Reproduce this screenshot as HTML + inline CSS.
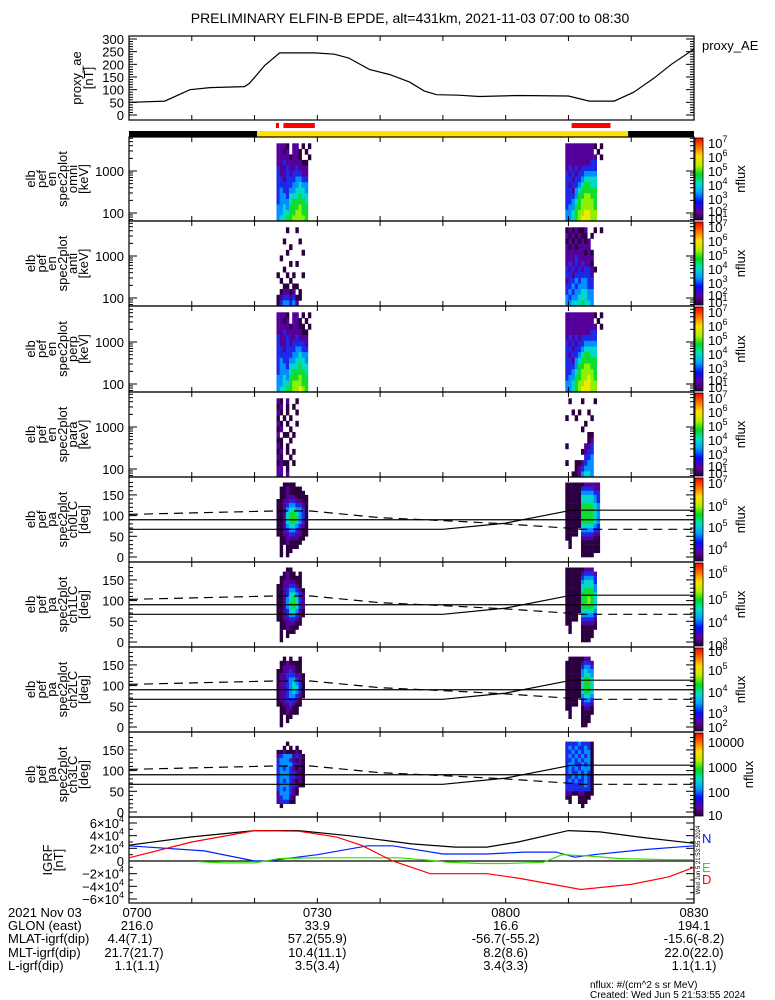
<!DOCTYPE html>
<html><head><meta charset="utf-8"><style>
html,body{margin:0;padding:0;background:#fff;}
svg{display:block;font-family:"Liberation Sans",sans-serif;}
</style></head><body>
<svg id="chart" width="775" height="1000" viewBox="0 0 775 1000" xmlns="http://www.w3.org/2000/svg"></svg>
<script>
// ---------- data ----------
const aeTimes = [0,0.3,5.7,9.7,12.9,18.4,19.2,21.6,24,29.6,32.7,35,38.3,41.5,44.7,47,49,52.5,55.8,62,70,73.3,77.3,80.4,83.6,86.4,90];
const aeValues = [50,50,55,100,108,112,125,195,245,245,240,225,180,160,130,95,80,78,73,77,75,55,55,90,145,200,260];
const aeTicks = [0,50,100,150,200,250,300];
const timeTickLabels = ["0700","0730","0800","0830"];
const timeTickMinutes = [0,30,60,90];
const glon = ["216.0","33.9","16.6","194.1"];
const mlat = ["4.4(7.1)","57.2(55.9)","-56.7(-55.2)","-15.6(-8.2)"];
const mlt = ["21.7(21.7)","10.4(11.1)","8.2(8.6)","22.0(22.0)"];
const lshell = ["1.1(1.1)","3.5(3.4)","3.4(3.3)","1.1(1.1)"];
const barSegments = [[0,20.4,"#000"],[20.4,79.5,"#ffe000"],[79.5,90,"#000"]];
const sciZones = [[23.4,23.9],[24.6,29.6],[70.5,76.7]];
const igrfTimes = [0,10,20,27,35,45,52,57,62,70,75,82,90];
const igrfN = [25000,38000,48000,48000,40000,27000,22000,22000,30000,48000,46000,37000,28000];
const igrfDTimes = [0,10,20,27,33,37,42,48,57,62,72,80,86,90];
const igrfD = [5000,30000,48000,47000,38000,25000,0,-20000,-20000,-27000,-45000,-37000,-25000,-10000];
const igrfBTimes = [0,12,20,22,30,38,42,50,57,63,68,71,74,82,90];
const igrfB = [24000,16000,0,0,10000,24000,24000,11000,11000,14000,14000,6000,10000,18000,24000];
const igrfETimes = [11,15,20,24,30,43,48,51,56,60,66,69,73,78,86,90];
const igrfE = [-1000,-3000,-3000,4000,5000,5000,1000,-2000,-4000,-4000,-2000,10000,8000,4000,2000,2000];
const lcTimes = [0,23,29,40,50,60,70.5,72,90];
const lcSolid = [67,67,67,67,67,82,113,113,113];
const lcDashed = [103,111,111,95,88,80,69,67,67];
const blobStarts = [23.5,69.5];
const colDur = 0.5;
const omni1 = ["222102201010","221202210100","222212210010","223222221100","322322322200","322323332200","332333443300","333334454400","343344555400","344355565500","344456666500","445466676600","445566776600","455667777600"];
const omni2 = ["222222222101","222222222010","222222222201","222222223300","232323333300","323233444400","332334555500","323345665500","332456666600","333466776600","334567777600","344667777600","445677887700","445678887700"];
const anti1 = ["000100100000","000000000000","001000010000","000010000000","000100001000","010000000000","000010100000","001000000000","100101001000","010010000000","001101100000","012212010000","123323110000","134434200000"];
const anti2 = ["121211200101","212121101000","121212120000","212122220000","222222121000","222322222000","232323221000","323232332100","332333332000","233434433000","334344433000","343445544000","434455544000","445556554000"];
const perp1 = ["222102201010","221202210100","222212211010","223222221100","322322322200","322323333200","332333443300","333334454400","343344555400","344355565500","344456666500","445466676600","445567776600","455667787600"];
const perp2 = ["222222222101","222222222010","222222222201","222222223300","232323333300","323233444400","332334555500","323345665500","332456666600","333466776600","334567777600","344667787600","445677887700","445678887700"];
const para1 = ["210200100000","120101000000","210100100000","101010000000","210100100000","120010000000","201101000000","110010000000","210100000000","120101000000","210010000000","121101000000","220100000000","220200000000"];
const para2 = ["010001000100","000000000000","001010010000","100100001000","000000100000","000001000000","000000011000","000000012000","100000223000","000001233000","000000334000","100112344000","000123444000","001124554000"];
const pa1 = ["001111000000","011211110000","011211111000","011222111100","112233221100","112344332100","112455443100","112566543100","112566643100","112566543100","112455432100","112344321100","112233221100","011222211000","011211110000","010111100000","010110000000","010100000000"];
const pa2 = ["111111222220","111113333220","111114444330","111115555430","111115555430","111116666540","111116666540","111116666540","111116666540","111116666540","111115555430","111104444330","111103333220","110002222110","010001111110","010001111110","000001111110","000001111000"];
const pb1 = ["000110000000","001211010000","011211110000","012222110000","112233210000","112344321000","112355432000","112456532000","112466532000","112456532000","112355421000","112344321000","112233210000","011222110000","011211100000","010111000000","010100000000","010000000000"];
const pb2 = ["111111222000","111112333200","111113444300","111114555300","111115555400","111115666400","111116666500","111116676500","111116676500","111116666500","111115555400","111104444300","111103333200","110002222100","010001111100","010001111000","000001111000","000001110000"];
const pc1 = ["000000000000","001010010000","011211110000","012222110000","112232110000","122333221000","122344321000","122345431000","122345531000","122345431000","122344321000","122333210000","112232110000","011221100000","011211100000","010110000000","010100000000","010000000000"];
const pc2 = ["000000000000","011111220000","111112332000","111113443000","111114544000","111114554000","111115665000","111115665000","111115665000","111115665000","111114554000","111103443000","111102332000","110001221000","010001111000","010001110000","000001110000","000001100000"];
const pd1 = ["000000000000","000100000000","001010100000","112111210000","234442321000","344432121000","344443221000","343432121000","344433211000","344433221000","343432121000","344433211000","343432100000","244432100000","234421000000","233311000000","010000000000","000000000000"];
const pd2 = ["000000000000","333343331000","343433431000","334343441000","343434341000","334343441000","344334341000","343434441000","343343431000","334343431000","343433431000","333333431000","333333331000","221122111000","110011110000","010011100000","000001000000","000000000000"];

// ---------- layout ----------
const svg = document.getElementById('chart');
const NS = "http://www.w3.org/2000/svg";
const X0 = 129, X1 = 694;
const xs = t => X0 + (X1 - X0) * t / 90;
const palette = ["none","#2a0040","#55009a","#1c28e8","#0090ff","#00d8c8","#10dc30","#8cf000","#f0e800","#ff8c00"];
function mk(tag, attrs, parent){ const e=document.createElementNS(NS,tag); for(const k in attrs) e.setAttribute(k,attrs[k]); (parent||svg).appendChild(e); return e; }
function txt(x,y,s,size,anchor,parent,fill){ const e=mk('text',{x:x,y:y,'font-size':size||13,'text-anchor':anchor||'start',fill:fill||'#000'},parent); e.textContent=s; return e; }

// title
const title = txt(410,23,"PRELIMINARY ELFIN-B EPDE, alt=431km, 2021-11-03 07:00 to 08:30",14,'middle');



function timeTicks(g,top,bot){
  for(let m=10;m<90;m+=10){
    const x=xs(m);
    mk('line',{x1:x,y1:bot,x2:x,y2:bot-5,stroke:'#000'},g);
    mk('line',{x1:x,y1:top,x2:x,y2:top+5,stroke:'#000'},g);
  }
}
function frame(g,top,bot){
  mk('rect',{x:X0,y:top,width:X1-X0,height:bot-top,fill:'none',stroke:'#000','stroke-width':1.2},g);
}
function ylabel(g,lines,cy,xsArr){
  lines.forEach((s,i)=>{
    const t=mk('text',{x:0,y:0,'font-size':13,'text-anchor':'middle',transform:`translate(${xsArr[i]},${cy}) rotate(-90)`},g);
    t.textContent=s;
  });
}
function lineMarks(g,times,vals,ymap,color,name,dash){
  let d="";
  times.forEach((t,i)=>{d+=(i?"L":"M")+xs(t).toFixed(1)+","+ymap(vals[i]).toFixed(1);});
  const p=mk('path',{d:d,fill:'none',stroke:color,'stroke-width':1.2},g);
  if(dash) p.setAttribute('stroke-dasharray',dash);
  
  
  return p;
}

// ---------- proxy AE panel ----------
{
  const g=mk('g',{});
  
  
  const top=36,bot=120;
  const ym=v=>115-(v/300)*76;
  frame(g,top,bot); timeTicks(g,top,bot);
  aeTicks.forEach(v=>{
    const y=ym(v);
    mk('line',{x1:X0,y1:y,x2:X0+8,y2:y,stroke:'#000'},g);
    mk('line',{x1:X1,y1:y,x2:X1-8,y2:y,stroke:'#000'},g);
    const t=txt(124,y+5,String(v),13,'end',g);
    
    
  });
  for(let v=10;v<300;v+=10){ if(v%50){const y=ym(v);
    mk('line',{x1:X0,y1:y,x2:X0+4,y2:y,stroke:'#000'},g);
    mk('line',{x1:X1,y1:y,x2:X1-4,y2:y,stroke:'#000'},g);}}
  ylabel(g,["proxy_ae","[nT]"],78,[81,93]);
  lineMarks(g,aeTimes,aeValues,ym,'#000','proxy-ae-line');
  const l=txt(702,50,"proxy_AE",13,'start',g);
  
  
}

// ---------- sci zones and bar ----------
{
  const g=mk('g',{});
  
  
  barSegments.forEach(s=>{
    const r=mk('rect',{x:xs(s[0]),y:131,width:xs(s[1])-xs(s[0]),height:6,fill:s[2]},g);
    
    
  });
  sciZones.forEach(s=>{
    const r=mk('rect',{x:xs(s[0]),y:123,width:xs(s[1])-xs(s[0]),height:5,fill:'#ff0000'},g);
    
    
  });
}

// ---------- spectrogram panels ----------
const specPanels = [
  {top:137,bot:221,lab:["elb","pef","en","spec2plot","omni","[keV]"],type:'en',m:[omni1,omni2],cb:[["7",6],["6",20],["5",34],["4",48],["3",62],["2",74],["1",81]],name:'omni'},
  {top:221,bot:306,lab:["elb","pef","en","spec2plot","anti","[keV]"],type:'en',m:[anti1,anti2],cb:[["7",6],["6",20],["5",34],["4",48],["3",62],["2",74],["1",81]],name:'anti'},
  {top:306,bot:392,lab:["elb","pef","en","spec2plot","perp","[keV]"],type:'en',m:[perp1,perp2],cb:[["7",6],["6",20],["5",34],["4",48],["3",62],["2",74],["1",81]],name:'perp'},
  {top:392,bot:477,lab:["elb","pef","en","spec2plot","para","[keV]"],type:'en',m:[para1,para2],cb:[["7",6],["6",20],["5",34],["4",48],["3",62],["2",74],["1",81]],name:'para'},
  {top:477,bot:562,lab:["elb","pef","pa","spec2plot","ch0LC","[deg]"],type:'pa',m:[pa1,pa2],cb:[["7",6],["6",29],["5",50],["4",72]],name:'ch0lc'},
  {top:562,bot:647,lab:["elb","pef","pa","spec2plot","ch1LC","[deg]"],type:'pa',m:[pb1,pb2],cb:[["6",11],["5",37],["4",60],["3",83]],name:'ch1lc'},
  {top:647,bot:732,lab:["elb","pef","pa","spec2plot","ch2LC","[deg]"],type:'pa',m:[pc1,pc2],cb:[["6",4],["5",23],["4",45],["3",66],["2",80]],name:'ch2lc'},
  {top:732,bot:817,lab:["elb","pef","pa","spec2plot","ch3LC","[deg]"],type:'pa',m:[pd1,pd2],cb:[["10000",10],["1000",35],["100",60],["10",83]],name:'ch3lc',plain:true},
];
specPanels.forEach((P,pi)=>{
  const g=mk('g',{});
  
  
  const H=P.bot-P.top;
  let ym, rowsLo, rowsHi, nrows;
  if(P.type==='en'){
    const lb=2-8/42, lt=lb+H/42;
    ym=v=>P.bot-(v-lb)*42;
    nrows=14; rowsLo=lb; rowsHi=lt-0.15;
  } else {
    ym=v=>P.bot-5-(v)*(H-8)/186;
    nrows=18; rowsLo=0; rowsHi=180;
  }
  // cells
  P.m.forEach((mat,bi)=>{
    mat.forEach((row,ri)=>{
      const vTop=rowsHi-(rowsHi-rowsLo)*ri/nrows, vBot=rowsHi-(rowsHi-rowsLo)*(ri+1)/nrows;
      for(let c=0;c<row.length;c++){
        const lv=+row[c]; if(!lv) continue;
        const t0=blobStarts[bi]+c*colDur;
        const r=mk('rect',{x:xs(t0).toFixed(1),y:ym(vTop).toFixed(1),width:(xs(t0+colDur)-xs(t0)+0.3).toFixed(1),height:(ym(vBot)-ym(vTop)+0.3).toFixed(1),fill:palette[lv]},g);
        
        
      }
    });
  });
  frame(g,P.top,P.bot); timeTicks(g,P.top,P.bot);
  // y axis
  if(P.type==='en'){
    [100,1000].forEach(v=>{const y=ym(Math.log10(v));
      mk('line',{x1:X0,y1:y,x2:X0+8,y2:y,stroke:'#000'},g);
      mk('line',{x1:X1,y1:y,x2:X1-8,y2:y,stroke:'#000'},g);
      const t=txt(124,y+5,String(v),13,'end',g);
      
      });
    for(let d=1;d<=3;d++) for(let k=2;k<=9;k++){const y=ym(d+Math.log10(k)); if(y>P.top+1&&y<P.bot-1){
      mk('line',{x1:X0,y1:y,x2:X0+4,y2:y,stroke:'#000'},g);
      mk('line',{x1:X1,y1:y,x2:X1-4,y2:y,stroke:'#000'},g);}}
  } else {
    [0,50,100,150].forEach(v=>{const y=ym(v);
      mk('line',{x1:X0,y1:y,x2:X0+8,y2:y,stroke:'#000'},g);
      mk('line',{x1:X1,y1:y,x2:X1-8,y2:y,stroke:'#000'},g);
      const t=txt(124,y+5,String(v),13,'end',g);
      
      });
    for(let v=10;v<=180;v+=10){ if(v%50){const y=ym(v);
      mk('line',{x1:X0,y1:y,x2:X0+4,y2:y,stroke:'#000'},g);
      mk('line',{x1:X1,y1:y,x2:X1-4,y2:y,stroke:'#000'},g);}}
    // loss cone lines
    const l90=mk('line',{x1:X0,y1:ym(90),x2:X1,y2:ym(90),stroke:'#000','stroke-width':1.2},g);
    
    
    lineMarks(g,lcTimes,lcSolid,ym,'#000','loss-cone-line');
    lineMarks(g,lcTimes,lcDashed,ym,'#000','anti-loss-cone-line','9,6');
  }
  ylabel(g,P.lab,(P.top+P.bot)/2,[35,46,56,67,77,88]);
  // colorbar
  const gid='cg'+pi;
  const defs=mk('defs',{},g);
  const lg=mk('linearGradient',{id:gid,x1:0,y1:1,x2:0,y2:0},defs);
  ["#2a0040","#6000a8","#0010ff","#00a0ff","#00e0c8","#00dc20","#b8f000","#ffe000","#ff7000","#ff0000"].forEach((c,i,a)=>mk('stop',{offset:i/(a.length-1),'stop-color':c},lg));
  const cb=mk('rect',{x:695,y:P.top+1,width:8,height:H-2,fill:`url(#${gid})`,stroke:'#000','stroke-width':0.8},g);
  
  
  P.cb.forEach(([e,off])=>{
    const y=P.top+off;
    const t=mk('text',{x:708,y:y+5,'font-size':13},g);
    
    
    if(P.plain){t.textContent=e;}
    else { t.textContent="10"; const s=mk('tspan',{dy:-6,'font-size':9},t); s.textContent=e; }
  });
  const nf=mk('text',{x:0,y:0,'font-size':13,'text-anchor':'middle',transform:`translate(${P.plain?753:745},${(P.top+P.bot)/2}) rotate(-90)`},g);
  nf.textContent="nflux";
  
  
});

// ---------- IGRF panel ----------
{
  const g=mk('g',{});
  
  
  const top=817,bot=903;
  const ym=v=>861-v*38/60000;
  frame(g,top,bot); timeTicks(g,top,bot);
  mk('line',{x1:X0,y1:ym(0),x2:X1,y2:ym(0),stroke:'#000','stroke-width':1.2},g);
  [-6,-4,-2,0,2,4,6].forEach(v=>{
    const y=ym(v*10000);
    mk('line',{x1:X0,y1:y,x2:X0+8,y2:y,stroke:'#000'},g);
    mk('line',{x1:X1,y1:y,x2:X1-8,y2:y,stroke:'#000'},g);
    const t=mk('text',{x:124,y:y+5,'font-size':13,'text-anchor':'end'},g);
    
    
    if(v===0) t.textContent="0";
    else { t.textContent=(v<0?"\u2212":"")+Math.abs(v)+"\u00d710"; const s=mk('tspan',{dy:-6,'font-size':9},t); s.textContent="4"; }
  });
  for(let v=-6;v<=6;v++){ if(v%2){const y=ym(v*10000);
    mk('line',{x1:X0,y1:y,x2:X0+4,y2:y,stroke:'#000'},g);
    mk('line',{x1:X1,y1:y,x2:X1-4,y2:y,stroke:'#000'},g);}}
  ylabel(g,["IGRF","[nT]"],860,[52,63]);
  lineMarks(g,igrfTimes,igrfN,ym,'#000','igrf-total-line');
  lineMarks(g,igrfBTimes,igrfB,ym,'#0020ff','igrf-n-line');
  lineMarks(g,igrfETimes,igrfE,ym,'#30e000','igrf-e-line');
  lineMarks(g,igrfDTimes,igrfD,ym,'#ff0000','igrf-d-line');
  [["N","#0020ff",843],["E","#30e000",872],["D","#ff0000",884]].forEach(([s,c,y])=>{
    const t=txt(702,y,s,13,'start',g,c);
    
    
  });
  const w=mk('text',{x:0,y:0,'font-size':6,'text-anchor':'middle',transform:`translate(700,860) rotate(-90)`},g);
  w.textContent="Wed Jun  5 21:53:55 2024";
  
  
}

// ---------- annotation rows ----------
{
  const g=mk('g',{});
  
  
  const rows=[["2021 Nov 03",timeTickLabels,917],["GLON (east)",glon,930],["MLAT-igrf(dip)",mlat,943],["MLT-igrf(dip)",mlt,957],["L-igrf(dip)",lshell,970]];
  rows.forEach(([lab,vals,y],ri)=>{
    const t=txt(8,y,lab,13,'start',g);
    
    
    vals.forEach((v,i)=>{
      let x=xs(timeTickMinutes[i]);
      if(i===0) x=ri===2?130:(ri===3?134:137);
      const a=txt(x,y,v,13,'middle',g);
      
      
    });
  });
  const n1=txt(590,988,"nflux: #/(cm^2 s sr MeV)",10,'start',g);
  
  
  const n2=txt(590,998,"Created: Wed Jun  5 21:53:55 2024",10,'start',g);
  
  
}
</script>
</body></html>
